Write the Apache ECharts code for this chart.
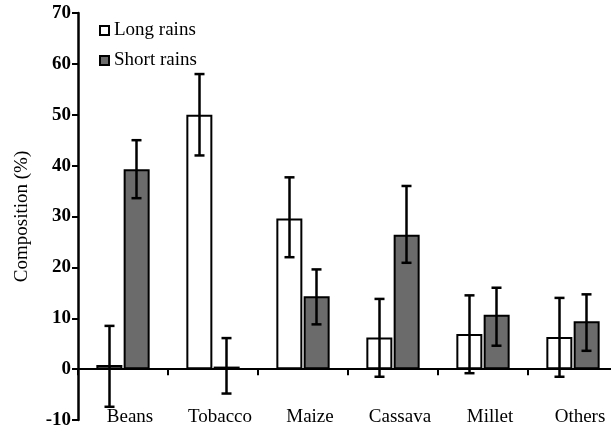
<!DOCTYPE html>
<html>
<head>
    <meta charset="utf-8"/>
    <title>Composition</title>
    <script src="https://cdn.jsdelivr.net/npm/echarts@6/dist/echarts.min.js"></script>
    <style>
        html, body { margin: 0; padding: 0; background: #fff; }
        #main { width: 611px; height: 428px; }
    </style>
</head>
<body>
<div id="main"></div>
<script>
    // categories
    var crops = ['Beans', 'Tobacco', 'Maize', 'Cassava', 'Millet', 'Others'];

    // means (%)
    var longRains = [0.8, 50.0, 29.6, 6.2, 6.9, 6.3];
    var shortRains = [39.3, 0.5, 14.3, 26.4, 10.7, 9.4];

    // error bar ends
    var longLow = [-7.4, 42.0, 22.0, -1.5, -0.8, -1.5];
    var longHigh = [8.5, 58.0, 37.7, 13.8, 14.5, 14.0];
    var shortLow = [33.6, -4.8, 8.8, 20.9, 4.6, 3.6];
    var shortHigh = [45.0, 6.1, 19.6, 36.0, 16.0, 14.7];

    var yTicks = [-10, 0, 10, 20, 30, 40, 50, 60, 70];

    var fontFam = '"Liberation Serif", "DejaVu Serif", serif';

    function errData(low, high) {
        var out = [];
        for (var i = 0; i < crops.length; i++) {
            out.push([i, low[i], high[i]]);
        }
        return out;
    }

    function errSeries(name, low, high, shift) {
        return {
            name: name + ' err',
            type: 'custom',
            z: 5,
            data: errData(low, high),
            renderItem: function (params, api) {
                var lo = api.coord([api.value(0), api.value(1)]);
                var hi = api.coord([api.value(0), api.value(2)]);
                var x = lo[0] + shift;
                var cap = 5;
                var st = { stroke: '#000', lineWidth: 2.5 };
                return {
                    type: 'group',
                    children: [
                        { type: 'line', shape: { x1: x, y1: lo[1], x2: x, y2: hi[1] }, style: st },
                        { type: 'line', shape: { x1: x - cap, y1: lo[1], x2: x + cap, y2: lo[1] }, style: st },
                        { type: 'line', shape: { x1: x - cap, y1: hi[1], x2: x + cap, y2: hi[1] }, style: st }
                    ]
                };
            }
        };
    }

    var chart = echarts.init(document.getElementById('main'));

    var option = {
        animation: false,
        grid: { left: 78, right: -7, top: 13, bottom: 8, containLabel: false, outerBoundsMode: 'none' },
        legend: {
            data: ['Long rains', 'Short rains'],
            orient: 'vertical',
            left: 94,
            top: 16,
            icon: 'rect',
            itemWidth: 9,
            itemHeight: 9,
            itemGap: 11,
            textStyle: { fontFamily: fontFam, fontSize: 19, color: '#000' }
        },
        xAxis: {
            type: 'category',
            data: crops,
            axisLine: { onZero: true, lineStyle: { color: '#000', width: 2 } },
            axisTick: { show: true, interval: 0, length: 6, lineStyle: { color: '#000', width: 2 } },
            axisLabel: {
                margin: -12, padding: [0, 0, 0, 14],
                fontFamily: fontFam, fontSize: 19, color: '#000', interval: 0
            },
            splitLine: { show: false }
        },
        yAxis: {
            type: 'value',
            min: yTicks[0],
            max: yTicks[yTicks.length - 1],
            interval: 10,
            name: 'Composition (%)',
            nameLocation: 'middle',
            nameGap: 46,
            nameTextStyle: { fontFamily: fontFam, fontSize: 19, color: '#000' },
            axisLine: { show: true, lineStyle: { color: '#000', width: 2.5 } },
            axisTick: { show: true, length: 6, lineStyle: { color: '#000', width: 2 } },
            axisLabel: { fontFamily: fontFam, fontSize: 19, fontWeight: 'bold', color: '#000', margin: 7 },
            splitLine: { show: false }
        },
        series: [
            {
                name: 'Long rains',
                type: 'bar',
                barWidth: 26,
                barGap: '5%',
                data: longRains,
                itemStyle: { color: '#fff', borderColor: '#000', borderWidth: 2 }
            },
            {
                name: 'Short rains',
                type: 'bar',
                barWidth: 26,
                data: shortRains,
                itemStyle: { color: '#6b6b6b', borderColor: '#000', borderWidth: 2 }
            },
            errSeries('Long rains', longLow, longHigh, -13.5),
            errSeries('Short rains', shortLow, shortHigh, 13.5)
        ]
    };

    chart.setOption(option);
</script>
</body>
</html>
